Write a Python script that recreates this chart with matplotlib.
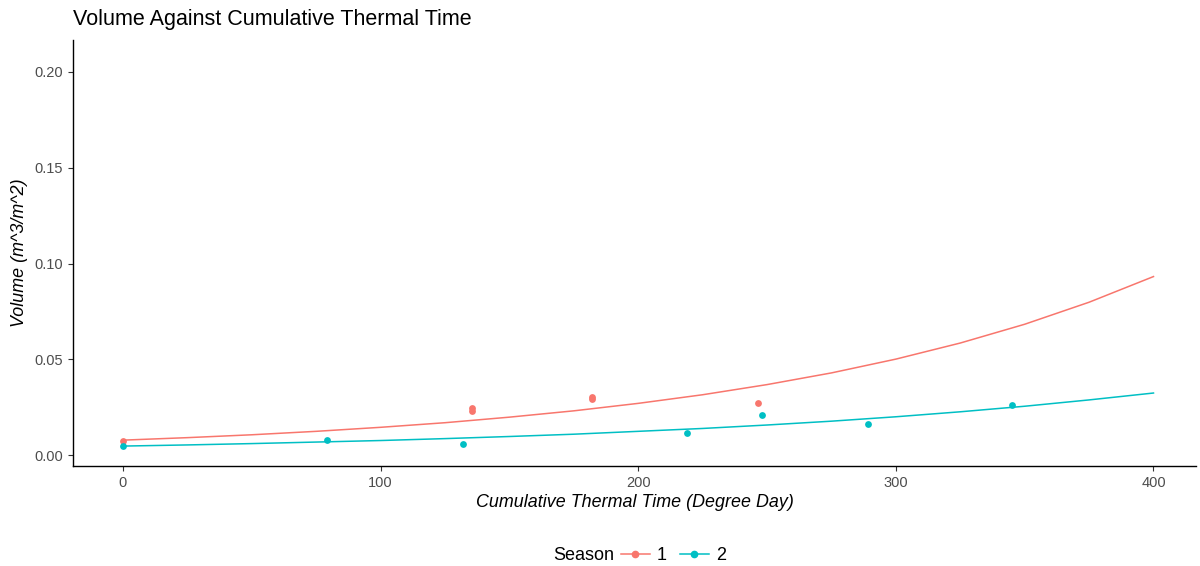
import matplotlib
matplotlib.use("Agg")
import matplotlib.pyplot as plt
from matplotlib.lines import Line2D

plt.rcParams['font.family'] = ['Liberation Sans', 'DejaVu Sans']

# observed points
s1_x = [0, 135.5, 135.5, 182, 182, 246.5]
s1_y = [0.0073, 0.0245, 0.0230, 0.0305, 0.0295, 0.0270]
s2_x = [0, 79, 132, 219, 248, 289, 345]
s2_y = [0.0047, 0.0078, 0.0057, 0.0115, 0.0210, 0.0163, 0.0262]

# fitted curves
curve_x = [0, 25, 50, 75, 100, 125, 150, 175, 200, 225, 250, 275, 300, 325, 350, 375, 400]
curve1_y = [0.0078, 0.0091, 0.0106, 0.0124, 0.0145, 0.0169, 0.0198, 0.0231, 0.0270,
            0.0315, 0.0368, 0.0429, 0.0501, 0.0585, 0.0683, 0.0798, 0.0932]
curve2_y = [0.0047, 0.0053, 0.0060, 0.0068, 0.0076, 0.0086, 0.0097, 0.0109, 0.0124,
            0.0139, 0.0157, 0.0177, 0.0200, 0.0226, 0.0255, 0.0288, 0.0324]

x_ticks = [0, 100, 200, 300, 400]
y_ticks = [0.00, 0.05, 0.10, 0.15, 0.20]
seasons = ['1', '2']
colors = ['#F8766D', '#00BFC4']

fig = plt.figure(figsize=(12, 5.66), dpi=100)
ax = fig.add_axes([73/1200, 1 - 466/566, (1196 - 73)/1200, (466 - 40)/566])

ax.plot(curve_x, curve1_y, color=colors[0], lw=1.1)
ax.plot(curve_x, curve2_y, color=colors[1], lw=1.1)
ax.scatter(s1_x, s1_y, color=colors[0], s=24, zorder=3, linewidths=0)
ax.scatter(s2_x, s2_y, color=colors[1], s=24, zorder=3, linewidths=0)

ax.set_xlim(-19.4, 416.5)
ax.set_ylim(-0.0057, 0.2167)
ax.set_xticks(x_ticks)
ax.set_yticks(y_ticks)
ax.set_xticklabels([str(t) for t in x_ticks])
ax.set_yticklabels([f"{t:.2f}" for t in y_ticks])
for s in ['top', 'right']:
    ax.spines[s].set_visible(False)
for s in ['left', 'bottom']:
    ax.spines[s].set_color('black')
    ax.spines[s].set_linewidth(1.0)
ax.tick_params(axis='both', colors='#333333', labelcolor='#4D4D4D', labelsize=10.5,
               length=3.5, width=0.8)

ax.set_xlabel('Cumulative Thermal Time (Degree Day)', fontsize=12.9, style='italic', labelpad=3)
ax.set_ylabel('Volume (m^3/m^2)', fontsize=12.9, style='italic', labelpad=5)

fig.text(73/1200, 1 - 20/566, 'Volume Against Cumulative Thermal Time', fontsize=15.5,
         ha='left', va='center')

fig.text(553/1200, 1 - 556/566, 'Season', fontsize=13, ha='left', va='center')
handles = [Line2D([0], [0], color=c, marker='o', markersize=4.5, lw=1.1) for c in colors]
fig.legend(handles, seasons, ncol=2, loc='center left', bbox_to_anchor=(621/1200, 1 - 556/566),
           frameon=False, fontsize=13, handlelength=1.6, handletextpad=0.4,
           columnspacing=0.7, borderaxespad=0, borderpad=0)

fig.savefig('out.png', dpi=100)
